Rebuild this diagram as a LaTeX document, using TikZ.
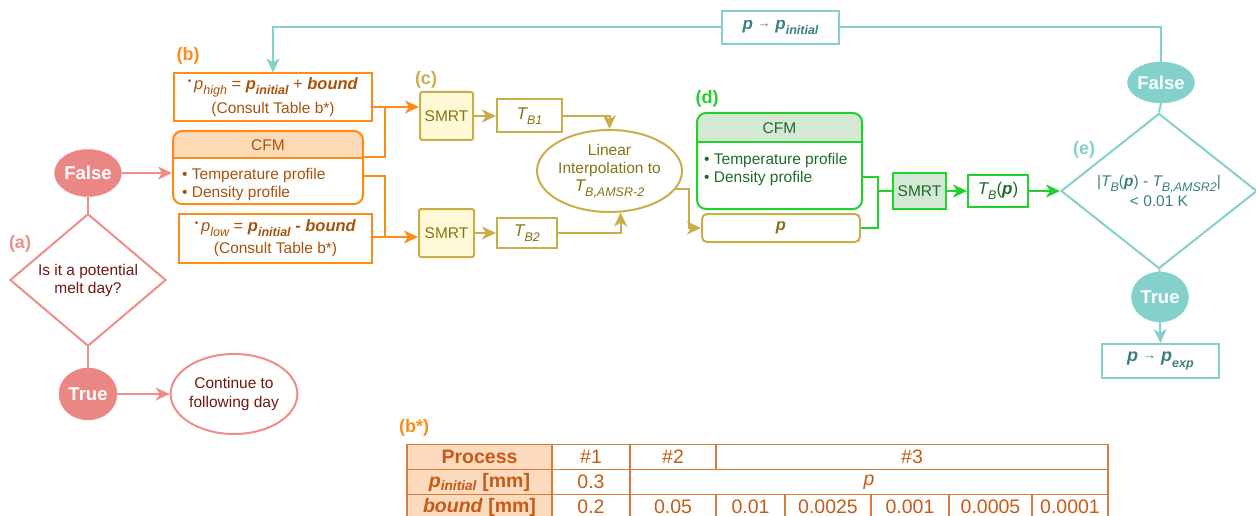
\documentclass[tikz,border=0pt]{standalone}
\usepackage{fontspec}
\setmainfont{Liberation Sans}
\usetikzlibrary{arrows.meta,shapes.geometric,calc}

% barvy po sekcich
\definecolor{aline}{HTML}{EC8E8B}
\definecolor{afill}{HTML}{EA8784}
\definecolor{atext}{HTML}{6F1616}
\definecolor{bline}{HTML}{FF8A1A}
\definecolor{bfill}{HTML}{FFDAB6}
\definecolor{btext}{HTML}{A9530A}
\definecolor{cline}{HTML}{C9AD48}
\definecolor{cfill}{HTML}{FFF9D8}
\definecolor{ctext}{HTML}{857410}
\definecolor{dline}{HTML}{22D12C}
\definecolor{dfill}{HTML}{D5E8D4}
\definecolor{dtext}{HTML}{1E6A2C}
\definecolor{eline}{HTML}{83D1CA}
\definecolor{etext}{HTML}{3A817C}
\definecolor{tline}{HTML}{D77C3C}
\definecolor{tfill}{HTML}{FCDABD}
\definecolor{ttext}{HTML}{C65A16}

\newcommand{\lowsub}[1]{\raisebox{-0.3em}{\fontsize{12.5}{12.5}\selectfont#1}}

\begin{document}
\begin{tikzpicture}[x=1pt, y=-1pt]

    % rozmery tabulky
    \def\rowh{25}

    % styly
    \tikzset{
        base/.style={font=\fontsize{15.5}{18}\selectfont, inner sep=0pt, align=center},
        tag/.style={font=\fontsize{18}{22}\selectfont\bfseries, inner sep=0pt},
        answer/.style={ellipse, fill=#1, draw=#1, text=white, inner sep=0pt,
            font=\fontsize{18.5}{22}\selectfont\bfseries},
        box/.style={base, draw=#1, line width=2pt, fill=white},
        link/.style={draw=#1, line width=2pt},
        flow/.style={link=#1, -{Stealth[length=14pt, width=13pt, inset=4pt]}},
        cfm/.style n args={3}{draw=#1, line width=2pt, rounded corners=9pt, inner sep=0pt,
            path picture={
                \fill[#2, sharp corners] (path picture bounding box.north west)
                    rectangle ([yshift=-#3]path picture bounding box.north east);
                \draw[#1, line width=2pt] ([yshift=-#3]path picture bounding box.north west)
                    -- ([yshift=-#3]path picture bounding box.north east);
            }},
        tcell/.style={draw=tline, line width=1.5pt, inner sep=0pt, minimum height=\rowh,
            text=ttext, font=\fontsize{19.5}{22}\selectfont},
        thead/.style={fill=tfill, font=\fontsize{19.5}{22}\selectfont\bfseries}
    }

    % pomocne makro pro bunku tabulky: x1, x2, y stredu, styl, text
    \newcommand{\tabcell}[5]{%
        \node[tcell, minimum width={#2-#1}, #4] (cell#1x#3) at ({(#1+#2)/2},#3) {#5};
    }

    \useasboundingbox (0,0) rectangle (1256,516);

    % --- (a) ---
    \node[tag, text=aline] (taga) at (20,244) {(a)};
    \node[answer=afill, minimum width=58pt, minimum height=47pt] (afalse) at (88,173) {False};
    \node[base, diamond, draw=aline, line width=2pt, text=atext,
        minimum width=156pt, minimum height=116pt] (adiam) at (88,280)
        {Is it a potential\\melt day?};
    \node[answer=afill, minimum width=58pt, minimum height=52pt] (atrue) at (88,394) {True};
    \node[base, ellipse, draw=aline, line width=2pt, text=atext,
        minimum width=122pt, minimum height=80pt, font=\fontsize{15.5}{19.5}\selectfont] (acont) at (234,394)
        {Continue to\\following day};

    \draw[link=aline] (afalse.south) -- (adiam.north);
    \draw[link=aline] (adiam.south) -- (atrue.north);
    \draw[flow=aline] (atrue.east) -- (acont.west);

    % --- (b) ---
    \node[tag, text=bline] (tagb) at (188,56) {(b)};
    \node[box=bline, text=btext, minimum width=198pt, minimum height=48pt] (bhigh) at (273,97.5)
        {{\fontsize{16.5}{18}\selectfont\raisebox{5pt}{\fontsize{10}{10}\selectfont•}\,\textit{p\lowsub{high}}
        = \textbf{\textit{p\lowsub{initial}}} + \textbf{\textit{bound}}}\\[4pt](Consult Table b*)};
    \node[cfm={bline}{bfill}{27pt}, minimum width=190pt, minimum height=73pt] (cfmb) at (268,167.5) {};
    \node[base, text=btext] (cfmbhead) at (268,145) {CFM};
    \node[base, text=btext, align=left, anchor=west] (cfmbbody) at (182,184.5)
        {• Temperature profile\\• Density profile};
    \node[box=bline, text=btext, minimum width=193pt, minimum height=49pt] (blow) at (275.5,238.5)
        {{\fontsize{16.5}{18}\selectfont\raisebox{5pt}{\fontsize{10}{10}\selectfont•}\,\textit{p\lowsub{low}}
        = \textbf{\textit{p\lowsub{initial}}} \textbf{-} \textbf{\textit{bound}}}\\[4pt](Consult Table b*)};

    \draw[flow=aline] (afalse.east) -- (afalse.east -| cfmb.west);

    % --- (c) ---
    \node[tag, text=cline] (tagc) at (426,80) {(c)};
    \node[box=cline, fill=cfill, text=ctext, rounded corners=2pt,
        minimum width=53pt, minimum height=48pt] (smrt1) at (446.5,116) {SMRT};
    \node[box=cline, text=ctext, minimum width=65pt, minimum height=33pt] (tb1) at (529.5,116)
        {\fontsize{17}{18}\selectfont\textit{T\lowsub{B1}}};
    \node[box=cline, fill=cfill, text=ctext, rounded corners=2pt,
        minimum width=55pt, minimum height=48pt] (smrt2) at (446.5,233) {SMRT};
    \node[box=cline, text=ctext, minimum width=60pt, minimum height=30pt] (tb2) at (527,233)
        {\fontsize{17}{18}\selectfont\textit{T\lowsub{B2}}};
    \node[base, ellipse, draw=cline, line width=2pt, text=ctext,
        minimum width=123pt, minimum height=82pt] (interp) at (609.5,171)
        {Linear\\Interpolation to\\{\fontsize{17}{18}\selectfont\textit{T\lowsub{B,AMSR-2}}}};

    % oranzove spoje do SMRT
    \coordinate (bup) at (385,107);
    \coordinate (bdown) at (385,237);
    \draw[link=bline] (bhigh.east |- bup) -- (bup);
    \draw[link=bline] ($(cfmb.north east)+(0,27)$) -| (bup);
    \draw[flow=bline] (bup) -- (smrt1.west |- bup);
    \draw[link=bline] ($(cfmb.east)+(0,8.5)$) -| (bdown);
    \draw[link=bline] (blow.east |- bdown) -- (bdown);
    \draw[flow=bline] (bdown) -- (smrt2.west |- bdown);

    \draw[flow=cline] (smrt1.east) -- (tb1.west);
    \draw[flow=cline] (smrt2.east) -- (tb2.west);
    \draw[flow=cline] (tb1.east) -| (interp.north);
    \draw[flow=cline] (tb2.east) -| (interp.-75);

    % --- (d) ---
    \node[tag, text=dline] (tagd) at (707,99) {(d)};
    \node[cfm={dline}{dfill}{29pt}, minimum width=165pt, minimum height=96pt] (cfmd) at (779.5,161) {};
    \node[base, text=dtext] (cfmdhead) at (779.5,128.5) {CFM};
    \node[base, text=dtext, align=left, anchor=west] (cfmdbody) at (704,169)
        {• Temperature profile\\• Density profile};
    \node[box=cline, text=ctext, rounded corners=5pt, minimum width=158pt, minimum height=28pt] (pbox) at (781,228)
        {\fontsize{16.5}{18}\selectfont\textbf{\textit{p}}};
    \node[box=dline, fill=dfill, text=dtext, minimum width=53pt, minimum height=36pt] (smrt3) at (919.5,191) {SMRT};
    \node[box=dline, text=dtext, minimum width=60pt, minimum height=31pt] (tbp) at (998,191)
        {\fontsize{17}{18}\selectfont\textit{T\lowsub{B}}(\textbf{\textit{p}})};

    \draw[flow=cline] (interp.-15) -- ++(13,0) |- (pbox.west);

    \coordinate (djoin) at (878,191);
    \draw[link=dline] ($(cfmd.east)+(0,16)$) -| (djoin);
    \draw[link=dline] (pbox.east) -| (djoin);
    \draw[link=dline] (djoin) -- (smrt3.west);
    \draw[flow=dline] (smrt3.east) -- (tbp.west);

    % --- (e) ---
    \node[tag, text=eline] (tage) at (1084,150) {(e)};
    \node[answer=eline, minimum width=67pt, minimum height=41pt] (efalse) at (1161,82.5) {False};
    \node[base, diamond, draw=eline, line width=2pt, text=etext,
        minimum width=196pt, minimum height=134pt] (ediam) at (1159,191)
        {|\textit{T\lowsub{B}}(\textbf{\textit{p}}) - \textit{T\lowsub{B,AMSR2}}|\\[2pt]< 0.01 K};
    \node[answer=eline, minimum width=57pt, minimum height=50pt] (etrue) at (1160,297) {True};
    \node[box=eline, text=etext, minimum width=117pt, minimum height=34pt,
        font=\fontsize{18}{20}\selectfont\bfseries\itshape] (pexp) at (1160.5,361)
        {p \raisebox{2pt}{\fontsize{13}{13}\selectfont→} p\lowsub{exp}};
    \node[box=eline, text=etext, minimum width=117pt, minimum height=33pt,
        font=\fontsize{17}{20}\selectfont\bfseries\itshape] (pinit) at (780.5,27.5)
        {p \raisebox{2pt}{\fontsize{13}{13}\selectfont→} p\lowsub{initial}};

    \draw[flow=dline] (tbp.east) -- (ediam.west);
    \draw[link=eline] (efalse.south) -- (ediam.north);
    \draw[link=eline] (ediam.south) -- (etrue.north);
    \draw[flow=eline] (etrue.south) -- (pexp.north);
    \draw[link=eline] (efalse.north) |- (pinit.east);
    \draw[flow=eline] (pinit.west) -| (bhigh.north);

    % --- tabulka (b*) ---
    \node[tag, text=bline] (tagbs) at (414,428) {(b*)};

    % radek 1
    \tabcell{407}{552}{457}{thead}{Process}
    \tabcell{552}{630}{457}{}{\#1}
    \tabcell{630}{716}{457}{}{\#2}
    \tabcell{716}{1108}{457}{}{\#3}

    % radek 2
    \tabcell{407}{552}{482}{thead}{\textit{p\textsubscript{initial}} [mm]}
    \tabcell{552}{630}{482}{}{0.3}
    \tabcell{630}{1108}{482}{}{\textit{p}}

    % radek 3
    \tabcell{407}{552}{507}{thead}{\textit{bound} [mm]}
    \tabcell{552}{630}{507}{}{0.2}
    \tabcell{630}{716}{507}{}{0.05}
    \tabcell{716}{785}{507}{}{0.01}
    \tabcell{785}{871}{507}{}{0.0025}
    \tabcell{871}{949}{507}{}{0.001}
    \tabcell{949}{1032}{507}{}{0.0005}
    \tabcell{1032}{1108}{507}{}{0.0001}

\end{tikzpicture}
\end{document}
